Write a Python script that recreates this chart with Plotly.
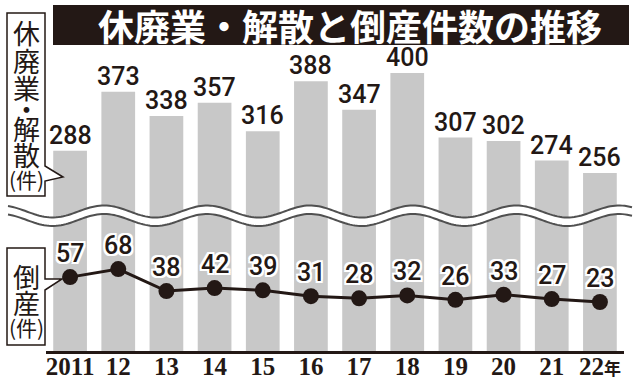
import numpy as np
import plotly.graph_objects as go

# ---------------- data ----------------
years = ["2011", "12", "13", "14", "15", "16", "17", "18", "19", "20", "21", "22"]
year_ticktext = ["2011", "12", "13", "14", "15", "16", "17", "18", "19", "20", "21",
                 "22<span style='font-family:Noto Sans CJK JP;font-size:17px;font-weight:bold'>年</span>"]
closures = [288, 373, 338, 357, 316, 388, 347, 400, 307, 302, 274, 256]      # 休廃業・解散
bankruptcies = [57, 68, 38, 42, 39, 31, 28, 32, 26, 33, 27, 23]                # 倒産
title_text = "休廃業・解散と倒産件数の推移"
label_top = ["休", "廃", "業", "・", "解", "散"]
label_bottom = ["倒", "産"]
unit_text = "(件)"

# ---------------- geometry (pixels) ----------------
W, H = 640, 385
L, R, T, B = 46, 624, 5, 351
INK = "#231815"
GRAY = "#c8c8c8"


def px(x):
    return (x - L) / (R - L)


def py(y):
    return (B - y) / (B - T)


def path(points, close=False):
    s = "M " + " L ".join(f"{px(x):.5f},{py(y):.5f}" for x, y in points)
    return s + (" Z" if close else "")


fig = go.Figure()
fig.add_trace(go.Bar(x=years, y=closures, marker=dict(color=GRAY, line=dict(width=0)),
                     width=0.7, hoverinfo="skip"))
fig.add_trace(go.Scatter(x=years, y=bankruptcies, yaxis="y2", mode="lines+markers",
                         line=dict(color=INK, width=3),
                         marker=dict(size=16, color=INK), hoverinfo="skip"))

shapes = []
# title bar
shapes.append(dict(type="rect", xref="paper", yref="paper", x0=px(53), x1=px(629),
                   y0=py(45), y1=py(5), fillcolor=INK, line=dict(width=0), layer="above"))
# label boxes with pointer tails
box1 = [(7, 13), (45, 13), (45, 166), (63, 177), (45, 181), (45, 196), (7, 196)]
box2 = [(7, 248), (45, 248), (45, 279), (62, 279), (45, 290), (45, 345), (7, 345)]
for b in (box1, box2):
    shapes.append(dict(type="path", xref="paper", yref="paper", path=path(b, True),
                       fillcolor="white", line=dict(color=INK, width=1.5), layer="above"))

# wavy break band (decoration)
xs = np.linspace(8, 632, 260)
upper = [(x, 211.5 - 6 * np.cos(2 * np.pi * (x - 207) / 103)) for x in xs]
lower = [(x, y + 8.5) for x, y in upper]
shapes.append(dict(type="path", xref="paper", yref="paper",
                   path=path(upper + lower[::-1], True), fillcolor="white",
                   line=dict(width=0), layer="above"))
for c in (upper, lower):
    shapes.append(dict(type="path", xref="paper", yref="paper", path=path(c),
                       line=dict(color="#505050", width=2), layer="above"))

annotations = []
# title
annotations.append(dict(xref="paper", yref="paper", x=px(350), y=py(25), text=title_text,
                        showarrow=False, xanchor="center", yanchor="middle",
                        font=dict(family="Noto Sans CJK JP", size=36, color="white", weight="bold")))
# vertical box labels
ys_top = [33, 60, 87, 109, 128, 155]
for ch, yy in zip(label_top, ys_top):
    annotations.append(dict(xref="paper", yref="paper", x=px(26), y=py(yy), text=ch,
                            showarrow=False, xanchor="center", yanchor="middle",
                            font=dict(family="Noto Sans CJK JP", size=27, color=INK)))
annotations.append(dict(xref="paper", yref="paper", x=px(26), y=py(179), text=unit_text,
                        showarrow=False, xanchor="center", yanchor="middle",
                        font=dict(family="Noto Sans CJK JP", size=21, color=INK)))
for ch, yy in zip(label_bottom, [276, 302]):
    annotations.append(dict(xref="paper", yref="paper", x=px(26), y=py(yy), text=ch,
                            showarrow=False, xanchor="center", yanchor="middle",
                            font=dict(family="Noto Sans CJK JP", size=27, color=INK)))
annotations.append(dict(xref="paper", yref="paper", x=px(26), y=py(327), text=unit_text,
                        showarrow=False, xanchor="center", yanchor="middle",
                        font=dict(family="Noto Sans CJK JP", size=21, color=INK)))

num_font = "Roboto, Liberation Sans, sans-serif"
halo = ("-2px -2px 0 #fff, 2px -2px 0 #fff, -2px 2px 0 #fff, 2px 2px 0 #fff, "
        "0 2px 0 #fff, 0 -2px 0 #fff, 2px 0 0 #fff, -2px 0 0 #fff")
# category axis: annotation x uses the category index
for i, v in enumerate(closures):
    annotations.append(dict(x=i, y=v, xref="x", yref="y", text=str(v), showarrow=False,
                            xanchor="center", yanchor="bottom", yshift=-1,
                            font=dict(family=num_font, size=25, color=INK, weight=500)))
for i, v in enumerate(bankruptcies):
    annotations.append(dict(x=i, y=v, xref="x", yref="y2", text=str(v), showarrow=False,
                            xanchor="center", yanchor="bottom", yshift=7,
                            font=dict(family=num_font, size=25, color=INK, weight=500,
                                      shadow=halo)))

fig.update_layout(
    width=W, height=H,
    margin=dict(l=L, r=W - R, t=T, b=H - B, autoexpand=False),
    paper_bgcolor="white", plot_bgcolor="white",
    showlegend=False, bargap=0.3,
    shapes=shapes, annotations=annotations,
    xaxis=dict(type="category", range=[-0.5, 11.5], showline=True, linecolor=INK,
               linewidth=3, ticks="", showgrid=False, tickmode="array", automargin=False,
               tickvals=years, ticktext=year_ticktext, ticklabelstandoff=-9,
               tickfont=dict(family="Liberation Serif, DejaVu Serif, serif", size=25,
                             color=INK, weight="bold")),
    yaxis=dict(range=[0, 497.8], showticklabels=False, showline=False, ticks="",
               showgrid=False, zeroline=False, automargin=False),
    yaxis2=dict(range=[-43.8, 428.2], overlaying="y", showticklabels=False, showline=False,
                ticks="", showgrid=False, zeroline=False, automargin=False),
)

fig.write_html("out.html", config={"displayModeBar": False, "staticPlot": True},
               post_script="document.body.style.margin='0';document.body.style.overflow='hidden';")
